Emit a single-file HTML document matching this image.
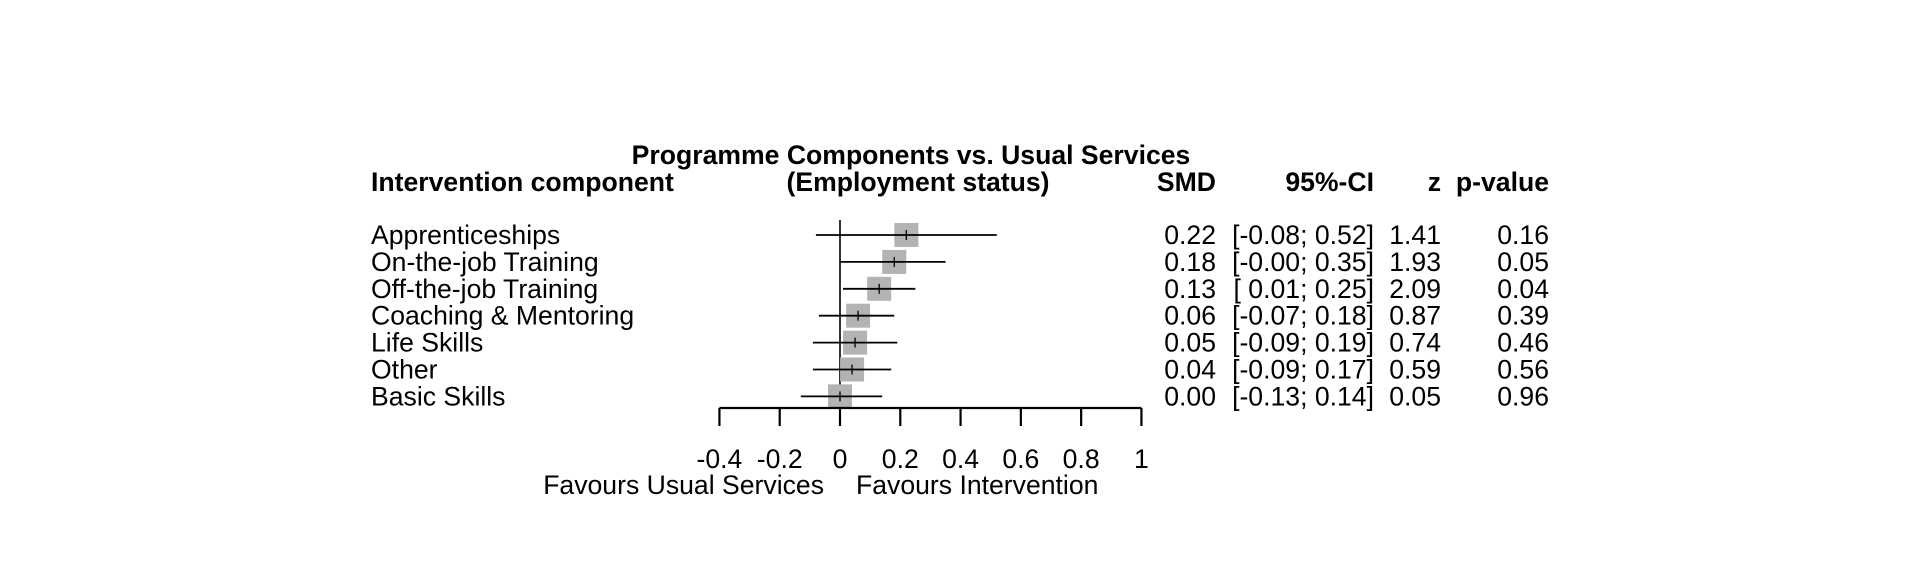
<!DOCTYPE html>
<html><head><meta charset="utf-8"><style>
html,body{margin:0;padding:0;background:#fff}
svg{display:block}
text{font-family:"Liberation Sans",Arial,sans-serif;fill:#000}
</style></head><body>
<svg id="chart" width="1920" height="576" viewBox="0 0 1920 576" xmlns="http://www.w3.org/2000/svg">
<text x="911" y="164" font-size="26.6" font-weight="bold" text-anchor="middle">Programme Components vs. Usual Services</text>
<text x="918" y="191" font-size="26.6" font-weight="bold" text-anchor="middle">(Employment status)</text>
<text x="371" y="191" font-size="26.6" font-weight="bold">Intervention component</text>
<text x="1216" y="191" font-size="26.6" font-weight="bold" text-anchor="end">SMD</text>
<text x="1374" y="191" font-size="26.6" font-weight="bold" text-anchor="end">95%-CI</text>
<text x="1441" y="191" font-size="26.6" font-weight="bold" text-anchor="end">z</text>
<text x="1549" y="191" font-size="26.6" font-weight="bold" text-anchor="end">p-value</text>
<g id="rows"></g>
<g id="axis"></g>
<text x="824" y="494" font-size="26.6" text-anchor="end">Favours Usual Services</text>
<text x="856" y="494" font-size="26.6">Favours Intervention</text>
</svg>
<script>
const categories=["Apprenticeships","On-the-job Training","Off-the-job Training","Coaching & Mentoring","Life Skills","Other","Basic Skills"];
const smd=[0.22,0.18,0.13,0.06,0.05,0.04,0.00];
const lower=[-0.08,-0.00,0.01,-0.07,-0.09,-0.09,-0.13];
const upper=[0.52,0.35,0.25,0.18,0.19,0.17,0.14];
const smdLabels=["0.22","0.18","0.13","0.06","0.05","0.04","0.00"];
const ciLabels=["[-0.08; 0.52]","[-0.00; 0.35]","[ 0.01; 0.25]","[-0.07; 0.18]","[-0.09; 0.19]","[-0.09; 0.17]","[-0.13; 0.14]"];
const zLabels=["1.41","1.93","2.09","0.87","0.74","0.59","0.05"];
const pLabels=["0.16","0.05","0.04","0.39","0.46","0.56","0.96"];
const ticks=[-0.4,-0.2,0,0.2,0.4,0.6,0.8,1];
const tickLabels=["-0.4","-0.2","0","0.2","0.4","0.6","0.8","1"];

const NS="http://www.w3.org/2000/svg";
const x=v=>840+(v-0)*(1141-719)/1.4;
const y=i=>235+i*26.9;
function mk(tag,attrs,parent,txt){const e=document.createElementNS(NS,tag);for(const k in attrs)e.setAttribute(k,attrs[k]);if(txt!==undefined)e.textContent=txt;parent.appendChild(e);return e;}
const rows=document.getElementById('rows');
const axis=document.getElementById('axis');
const zl=mk('line',{x1:x(0),x2:x(0),y1:220,y2:408,stroke:'#000','stroke-width':1.6},rows);


categories.forEach((c,i)=>{
  const yy=y(i);
  const sq=mk('rect',{x:x(smd[i])-12,y:yy-12,width:24,height:24,fill:'#b3b3b3'},rows);
  
  
  const ci=mk('line',{x1:x(lower[i]),x2:x(upper[i]),y1:yy,y2:yy,stroke:'#000','stroke-width':1.8},rows);
  
  
  const pt=mk('line',{x1:x(smd[i]),x2:x(smd[i]),y1:yy-5,y2:yy+5,stroke:'#000','stroke-width':1.3},rows);
  
  
  const t1=mk('text',{x:371,y:yy+9,'font-size':26.6},rows,c);
  
  
  const t2=mk('text',{x:1216,y:yy+9,'font-size':26.6,'text-anchor':'end'},rows,smdLabels[i]);
  
  
  const t3=mk('text',{x:1374,y:yy+9,'font-size':26.6,'text-anchor':'end'},rows,ciLabels[i]);
  
  
  t3.setAttribute('xml:space','preserve');
  t3.style.whiteSpace='pre';
  const t4=mk('text',{x:1441,y:yy+9,'font-size':26.6,'text-anchor':'end'},rows,zLabels[i]);
  
  
  const t5=mk('text',{x:1549,y:yy+9,'font-size':26.6,'text-anchor':'end'},rows,pLabels[i]);
  
  
});
const al=mk('line',{x1:x(ticks[0]),x2:x(ticks[ticks.length-1]),y1:408,y2:408,stroke:'#000','stroke-width':2.2},axis);


ticks.forEach((t,i)=>{
  const tk=mk('line',{x1:x(t),x2:x(t),y1:408,y2:426,stroke:'#000','stroke-width':2.2},axis);
  
  
  const tl=mk('text',{x:x(t),y:468,'font-size':26.6,'text-anchor':'middle'},axis,tickLabels[i]);
  
  
});
</script>
</body></html>
